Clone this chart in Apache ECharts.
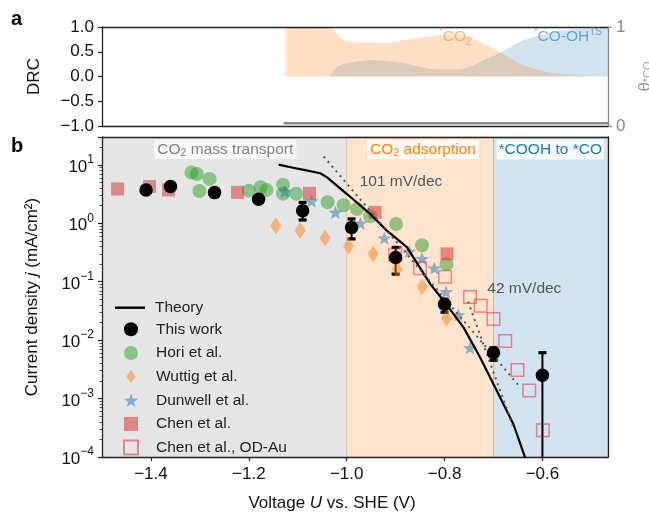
<!DOCTYPE html>
<html>
<head>
<meta charset="utf-8">
<script src="https://cdn.jsdelivr.net/npm/echarts@6/dist/echarts.min.js"></script>
<style>
  html, body { margin: 0; padding: 0; background: #fff; }
  #main { width: 649px; height: 516px; }
</style>
</head>
<body>
<div id="main"></div>
<script>
// ---- panel a: degree of rate control vs U ----
const co2U   = [-1.125, -1.10, -1.06, -1.034, -1.01, -0.986, -0.95, -0.918, -0.884, -0.85, -0.816, -0.775, -0.734, -0.686, -0.639, -0.591, -0.543, -0.50, -0.466];
const co2Drc = [1.0, 1.0, 1.0, 0.99, 0.77, 0.70, 0.68, 0.68, 0.73, 0.79, 0.83, 0.87, 0.73, 0.48, 0.23, 0.09, 0.03, 0.01, 0.0];
const coohU   = [-1.034, -1.02, -0.986, -0.945, -0.884, -0.85, -0.816, -0.775, -0.748, -0.714, -0.686, -0.639, -0.591, -0.543, -0.466];
const coohDrc = [0.0, 0.195, 0.295, 0.33, 0.275, 0.195, 0.14, 0.14, 0.195, 0.36, 0.48, 0.73, 0.87, 0.95, 0.99];
const thetaU  = [-1.129, -0.466];
const thetaCO = [0.027, 0.027];

// ---- panel b: current density vs U ----
const theoryU = [-1.139, -1.10, -1.054, -1.040, -1.020, -1.000, -0.952, -0.918, -0.877, -0.829, -0.799, -0.761, -0.727, -0.693, -0.659, -0.635, -0.625];
const theoryJ = [10.1, 8.6, 7.2, 6.1, 4.4, 3.2, 1.45, 0.75, 0.39, 0.091, 0.044, 0.0164, 0.0050, 0.00135, 0.00036, 0.0000955, 0.00006];

const thisWorkU = [-1.41, -1.36, -1.27, -1.18, -1.09, -0.99, -0.90, -0.80, -0.70, -0.60];
const thisWorkJ = [3.73, 4.25, 3.35, 2.57, 1.64, 0.85, 0.26, 0.041, 0.0061, 0.0025];
const errU  = [-1.09, -0.99, -0.90, -0.80, -0.70, -0.60];
const errLo = [1.14, 0.54, 0.135, 0.030, 0.0045, 0.00001];
const errHi = [2.28, 1.19, 0.386, 0.050, 0.0074, 0.0061];

const horiU = [-1.317, -1.306, -1.280, -1.301, -1.200, -1.176, -1.164, -1.130, -1.130, -1.103, -1.039, -1.006, -0.979, -0.952, -0.899, -0.846, -0.796];
const horiJ = [7.4, 7.0, 5.75, 3.58, 3.62, 4.13, 3.73, 4.59, 3.22, 3.22, 2.30, 2.04, 1.75, 1.32, 0.97, 0.42, 0.20];

const wuttigU = [-1.145, -1.095, -1.044, -0.996, -0.946, -0.897, -0.846, -0.796];
const wuttigJ = [0.91, 0.75, 0.56, 0.41, 0.30, 0.164, 0.082, 0.0236];

const dunwellU = [-1.126, -1.072, -1.023, -0.972, -0.923, -0.872, -0.846, -0.821, -0.797, -0.772, -0.748];
const dunwellJ = [3.52, 2.41, 1.54, 1.0, 0.56, 0.33, 0.25, 0.171, 0.067, 0.027, 0.0074];

const chenU = [-1.468, -1.403, -1.364, -1.223, -1.076, -0.942, -0.795];
const chenJ = [3.87, 4.25, 3.73, 3.39, 3.26, 1.54, 0.30];

const chenOdU = [-0.901, -0.850, -0.799, -0.748, -0.726, -0.700, -0.676, -0.651, -0.627, -0.599];
const chenOdJ = [0.29, 0.17, 0.122, 0.055, 0.0387, 0.0231, 0.0097, 0.00308, 0.00138, 0.000288];

const tafel101U = [-1.047, -0.645];
const tafel101J = [13.9, 0.00155];
const tafel42U  = [-0.752, -0.659];
const tafel42J  = [0.0457, 0.000316];

const regionEdges = [-1.5, -1.0, -0.7, -0.466];
const xRange = [-1.5, -0.466];
const jRange = [1e-4, 30];

const FONT = 'Liberation Sans, Arial, sans-serif';
const zip = (xs, ys) => xs.map((x, i) => [x, ys[i]]);
const minus = s => String(s).replace(/-/g, '\u2212');

const starPath = (() => {
  const pts = [];
  for (let i = 0; i < 10; i++) {
    const a = -Math.PI / 2 + i * Math.PI / 5;
    const r = i % 2 ? 0.42 : 1;
    pts.push((50 + 50 * r * Math.cos(a)).toFixed(2) + ' ' + (50 + 50 * r * Math.sin(a)).toFixed(2));
  }
  return 'path://M' + pts.join(' L') + ' Z';
})();
const thinDiamond = 'path://M5.5 0 L11 8.5 L5.5 17 L0 8.5 Z';

const tickStyle = { show: true, length: 4, lineStyle: { color: '#222', width: 1.2 } };
const lineStyle = { color: '#222', width: 1.3 };
const labelBase = { fontFamily: FONT, fontSize: 17, color: '#111' };
const legendText = { fontFamily: FONT, fontSize: 15.5, color: '#222', lineHeight: 14 };
const hidden = { axisTick: { show: false }, axisLabel: { show: false }, splitLine: { show: false } };

const chart = echarts.init(document.getElementById('main'));

const option = {
  animation: false,
  backgroundColor: '#fff',
  textStyle: { fontFamily: FONT },
  graphic: [
    { type: 'text', left: 11, top: 9, style: { text: 'a', font: 'bold 20px ' + FONT, fill: '#000' } },
    { type: 'text', left: 11, top: 136, style: { text: 'b', font: 'bold 20px ' + FONT, fill: '#000' } }
  ],
  grid: [
    { left: 102, right: 41, top: 27, height: 99, outerBoundsMode: 'none', containLabel: false },
    { left: 102, right: 41, top: 137, height: 320, outerBoundsMode: 'none', containLabel: false }
  ],
  legend: [
    { orient: 'vertical', left: 110, top: 294.7, itemWidth: 30, itemHeight: 2.4,
      textStyle: Object.assign({ padding: [0, 0, 0, 5] }, legendText),
      data: [{ name: 'Theory', icon: 'rect', itemStyle: { color: '#000' } }] },
    { orient: 'vertical', left: 118, top: 316.3, itemWidth: 14, itemHeight: 14, itemGap: 7.65,
      symbolKeepAspect: true,
      textStyle: Object.assign({ padding: [0, 0, 0, 13] }, legendText),
      data: ['This work', 'Hori et al.', { name: 'Wuttig et al.', icon: thinDiamond }, 'Dunwell et al.', 'Chen et al.', 'Chen et al., OD-Au'] }
  ],
  xAxis: [
    Object.assign({ type: 'value', gridIndex: 0, min: xRange[0], max: xRange[1], z: 3,
      axisLine: { onZero: false, lineStyle } }, hidden),
    Object.assign({ type: 'value', gridIndex: 0, position: 'top', min: xRange[0], max: xRange[1], z: 3,
      axisLine: { onZero: false, lineStyle } }, hidden),
    { type: 'value', gridIndex: 1, min: xRange[0], max: xRange[1], z: 3,
      axisLine: { onZero: false, lineStyle }, axisTick: tickStyle,
      axisLabel: Object.assign({}, labelBase, { margin: 9, showMinLabel: false, showMaxLabel: false,
        formatter: v => minus(v.toFixed(1)) }),
      splitLine: { show: false },
      name: 'Voltage {it|U} vs. SHE (V)', nameLocation: 'middle', nameGap: 38,
      nameTextStyle: Object.assign({}, labelBase, { padding: [0, 46, 0, 0],
        rich: { it: { fontFamily: FONT, fontSize: 17, fontStyle: 'italic', color: '#111' } } }) },
    Object.assign({ type: 'value', gridIndex: 1, position: 'top', min: xRange[0], max: xRange[1], z: 3,
      axisLine: { onZero: false, lineStyle } }, hidden)
  ],
  yAxis: [
    { type: 'value', gridIndex: 0, min: -1, max: 1, interval: 0.5, z: 3,
      axisLine: { show: true, onZero: false, lineStyle }, axisTick: tickStyle,
      axisLabel: Object.assign({}, labelBase, { margin: 8, formatter: v => minus(v.toFixed(1)) }),
      splitLine: { show: false },
      name: 'DRC', nameLocation: 'middle', nameGap: 59, nameRotate: 90,
      nameTextStyle: labelBase },
    { type: 'value', gridIndex: 0, position: 'right', min: 0, max: 1, interval: 1, z: 3,
      axisLine: { show: true, onZero: false, lineStyle: { color: '#888', width: 1.3 } },
      axisTick: { show: true, length: 4, lineStyle: { color: '#888', width: 1.2 } },
      axisLabel: { fontFamily: FONT, fontSize: 17, color: '#888', margin: 8 },
      splitLine: { show: false },
      name: '\u03b8{sub|*CO}', nameLocation: 'middle', nameGap: 24, nameRotate: 90,
      nameTextStyle: { fontFamily: FONT, fontSize: 17, color: '#999',
        rich: { sub: { fontFamily: FONT, fontSize: 11, color: '#999', verticalAlign: 'bottom', lineHeight: 10 } } } },
    { type: 'log', logBase: 10, gridIndex: 1, min: jRange[0], max: jRange[1], z: 3,
      axisLine: { show: true, onZero: false, lineStyle }, axisTick: tickStyle,
      minorTick: { show: true, splitNumber: 9, length: 2.5, lineStyle: { color: '#222', width: 0.8 } },
      axisLabel: {
        margin: 8, showMaxLabel: false,
        formatter: v => {
          const e = Math.log10(v);
          if (Math.abs(e - Math.round(e)) > 1e-6) return '';
          return '{b|10}{s|' + minus(Math.round(e)) + '}';
        },
        rich: {
          b: { fontFamily: FONT, fontSize: 17, color: '#111', lineHeight: 22, verticalAlign: 'bottom' },
          s: { fontFamily: FONT, fontSize: 12, color: '#111', lineHeight: 13, verticalAlign: 'top' }
        }
      },
      splitLine: { show: false },
      name: 'Current density {it|j} (mA/cm\u00b2)', nameLocation: 'middle', nameGap: 61, nameRotate: 90,
      nameTextStyle: Object.assign({}, labelBase, {
        rich: { it: { fontFamily: FONT, fontSize: 17, fontStyle: 'italic', color: '#111' } } }) },
    Object.assign({ type: 'value', gridIndex: 1, position: 'right', min: 0, max: 1, z: 3,
      axisLine: { show: true, onZero: false, lineStyle } }, hidden)
  ],
  series: [
    // panel a
    { name: 'CO-OH TS', type: 'line', xAxisIndex: 0, yAxisIndex: 0, data: zip(coohU, coohDrc),
      showSymbol: false, symbol: 'none', smooth: 0.3, lineStyle: { width: 0 },
      areaStyle: { color: 'rgba(31,119,180,0.2)', opacity: 1 }, silent: true },
    { name: 'CO2 DRC', type: 'line', xAxisIndex: 0, yAxisIndex: 0, data: zip(co2U, co2Drc),
      showSymbol: false, symbol: 'none', smooth: 0.3, lineStyle: { width: 0 },
      areaStyle: { color: 'rgba(255,127,14,0.24)', opacity: 1 }, silent: true,
      markPoint: {
        symbol: 'circle', symbolSize: 0, silent: true,
        data: [
          { coord: [-0.778, 0.80], label: { show: true, position: 'inside',
              formatter: '{s|*}{b|CO}{d|2}',
              rich: {
                b: { fontFamily: FONT, fontSize: 15.5, color: 'rgba(255,127,14,0.55)', lineHeight: 20 },
                s: { fontFamily: FONT, fontSize: 10, color: 'rgba(255,127,14,0.55)', lineHeight: 10, verticalAlign: 'top' },
                d: { fontFamily: FONT, fontSize: 10, color: 'rgba(255,127,14,0.55)', lineHeight: 10, verticalAlign: 'bottom' }
              } } },
          { coord: [-0.548, 0.80], label: { show: true, position: 'inside',
              formatter: '{s|*}{b|CO-OH}{s|TS}',
              rich: {
                b: { fontFamily: FONT, fontSize: 15.5, color: 'rgba(31,119,180,0.6)', lineHeight: 20 },
                s: { fontFamily: FONT, fontSize: 10, color: 'rgba(31,119,180,0.6)', lineHeight: 10, verticalAlign: 'top' }
              } } }
        ]
      } },
    { name: 'theta', type: 'line', xAxisIndex: 0, yAxisIndex: 1, data: zip(thetaU, thetaCO),
      showSymbol: false, symbol: 'none', lineStyle: { color: '#888', width: 2.5 }, silent: true },

    // panel b: backgrounds
    { name: 'regions', type: 'scatter', xAxisIndex: 2, yAxisIndex: 2, data: [], z: 0, silent: true,
      markArea: {
        silent: true,
        data: [
          [{ xAxis: regionEdges[0], itemStyle: { color: 'rgba(128,128,128,0.2)' } }, { xAxis: regionEdges[1] }],
          [{ xAxis: regionEdges[1], itemStyle: { color: 'rgba(255,127,14,0.2)', borderColor: 'rgba(220,150,90,0.45)', borderWidth: 1 } }, { xAxis: regionEdges[2] }],
          [{ xAxis: regionEdges[2], itemStyle: { color: 'rgba(31,119,180,0.2)', borderColor: 'rgba(190,170,150,0.5)', borderWidth: 1 } }, { xAxis: regionEdges[3] }]
        ]
      } },

    // panel b: data
    { name: 'Hori et al.', type: 'scatter', xAxisIndex: 2, yAxisIndex: 2, data: zip(horiU, horiJ),
      symbol: 'circle', symbolSize: 14, itemStyle: { color: 'rgba(44,160,44,0.5)', opacity: 1 } },
    { name: 'Wuttig et al.', type: 'scatter', xAxisIndex: 2, yAxisIndex: 2, data: zip(wuttigU, wuttigJ),
      symbol: 'diamond', symbolSize: [11, 17], itemStyle: { color: 'rgba(255,127,14,0.5)', opacity: 1 } },
    { name: 'Dunwell et al.', type: 'scatter', xAxisIndex: 2, yAxisIndex: 2, data: zip(dunwellU, dunwellJ),
      symbol: starPath, symbolKeepAspect: true, symbolSize: 14, itemStyle: { color: 'rgba(31,119,180,0.5)', opacity: 1 } },
    { name: 'Chen et al.', type: 'scatter', xAxisIndex: 2, yAxisIndex: 2, data: zip(chenU, chenJ),
      symbol: 'rect', symbolKeepAspect: true, symbolSize: 13, itemStyle: { color: 'rgba(214,39,40,0.5)', opacity: 1 } },
    { name: 'Chen et al., OD-Au', type: 'scatter', xAxisIndex: 2, yAxisIndex: 2, data: zip(chenOdU, chenOdJ),
      symbol: 'rect', symbolKeepAspect: true, symbolSize: 12.5,
      itemStyle: { color: 'rgba(255,255,255,0)', borderColor: 'rgba(214,39,40,0.5)', borderWidth: 1.5, opacity: 1 } },
    { name: 'Theory', type: 'line', xAxisIndex: 2, yAxisIndex: 2, data: zip(theoryU, theoryJ),
      showSymbol: false, symbol: 'none', clip: true, lineStyle: { color: '#000', width: 2.2 }, itemStyle: { color: '#000' } },
    { name: '101', type: 'line', xAxisIndex: 2, yAxisIndex: 2, data: zip(tafel101U, tafel101J),
      showSymbol: false, symbol: 'none', silent: true,
      lineStyle: { color: '#555', width: 2, type: [2, 4.2] } },
    { name: '42', type: 'line', xAxisIndex: 2, yAxisIndex: 2, data: zip(tafel42U, tafel42J),
      showSymbol: false, symbol: 'none', silent: true,
      lineStyle: { color: '#555', width: 2, type: [2, 4.2] } },
    { name: 'err', type: 'custom', xAxisIndex: 2, yAxisIndex: 2, clip: true, silent: true,
      data: errU.map((u, i) => [u, errLo[i], errHi[i]]),
      encode: { x: 0, y: [1, 2] },
      renderItem: (params, api) => {
        const lo = api.coord([api.value(0), api.value(1)]);
        const hi = api.coord([api.value(0), api.value(2)]);
        const c = 4;
        return { type: 'group', children: [
          { type: 'line', shape: { x1: lo[0], y1: lo[1], x2: hi[0], y2: hi[1] }, style: { stroke: '#000', lineWidth: 2 } },
          { type: 'line', shape: { x1: hi[0] - c, y1: hi[1], x2: hi[0] + c, y2: hi[1] }, style: { stroke: '#000', lineWidth: 3.2 } },
          { type: 'line', shape: { x1: lo[0] - c, y1: lo[1], x2: lo[0] + c, y2: lo[1] }, style: { stroke: '#000', lineWidth: 3.2 } }
        ] };
      } },
    { name: 'This work', type: 'scatter', xAxisIndex: 2, yAxisIndex: 2, data: zip(thisWorkU, thisWorkJ),
      symbol: 'circle', symbolSize: 13.5, itemStyle: { color: '#000', opacity: 1 }, z: 4 },

    // panel b: annotations
    { name: 'notes', type: 'scatter', xAxisIndex: 2, yAxisIndex: 2, data: [], z: 5, silent: true,
      markPoint: {
        symbol: 'circle', symbolSize: 0, silent: true,
        data: [
          { coord: [-1.248, 18.3], label: { show: true, position: 'inside', formatter: '{b|CO}{d|2}{b| mass transport}',
              backgroundColor: 'rgba(255,255,255,0.75)', padding: [0, 3, 0, 3],
              rich: { b: { fontFamily: FONT, fontSize: 15.5, color: '#808080', lineHeight: 19 },
                      d: { fontFamily: FONT, fontSize: 10.5, color: '#808080', lineHeight: 10, verticalAlign: 'bottom' } } } },
          { coord: [-0.844, 18.3], label: { show: true, position: 'inside', formatter: '{b|CO}{d|2}{b| adsorption}',
              backgroundColor: 'rgba(255,255,255,0.8)', padding: [0, 3, 0, 3],
              rich: { b: { fontFamily: FONT, fontSize: 15.5, color: '#ff7f0e', lineHeight: 19 },
                      d: { fontFamily: FONT, fontSize: 10.5, color: '#ff7f0e', lineHeight: 10, verticalAlign: 'bottom' } } } },
          { coord: [-0.584, 18.3], label: { show: true, position: 'inside', formatter: '*COOH to *CO',
              backgroundColor: 'rgba(255,255,255,0.8)', padding: [1, 2, 0, 2],
              fontFamily: FONT, fontSize: 15.5, color: '#1f77b4', lineHeight: 19 } },
          { coord: [-0.889, 5.24], label: { show: true, position: 'inside', formatter: '101 mV/dec',
              fontFamily: FONT, fontSize: 15.5, color: '#555' } },
          { coord: [-0.637, 0.0764], label: { show: true, position: 'inside', formatter: '42 mV/dec',
              fontFamily: FONT, fontSize: 15.5, color: '#555' } }
        ]
      } }
  ]
};

chart.setOption(option);
</script>
</body>
</html>
